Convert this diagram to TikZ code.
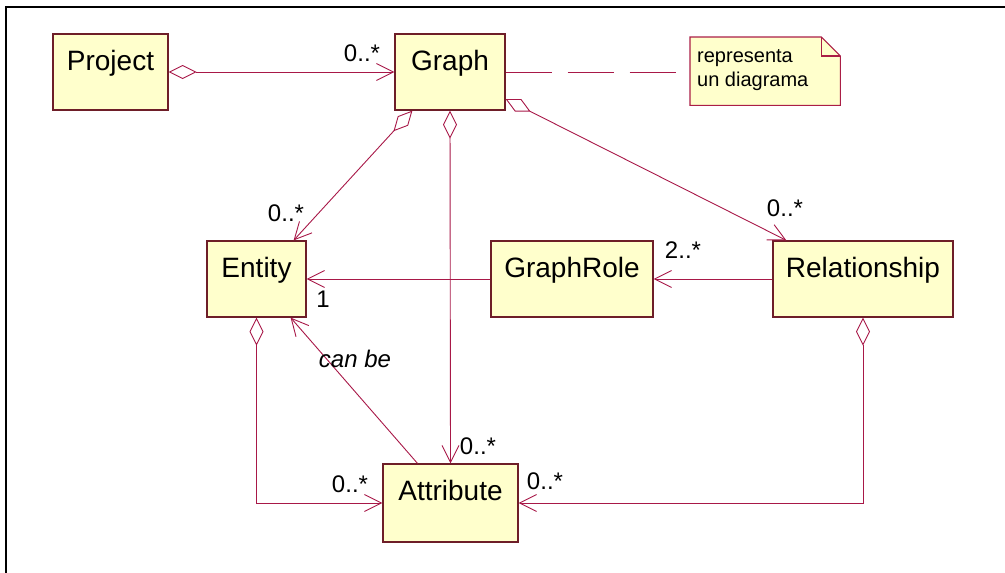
\documentclass[tikz,border=0pt]{standalone}
\usepackage{fontspec}
\setmainfont{Liberation Sans}
\usetikzlibrary{arrows.meta,calc}
\definecolor{lineclr}{RGB}{168,24,72}
\definecolor{clsborder}{RGB}{110,30,40}
\definecolor{noteborder}{RGB}{170,30,70}
\definecolor{clsfill}{RGB}{255,255,204}
\tikzset{
  cls/.style={draw=clsborder, fill=clsfill, line width=1.2pt, inner sep=0pt,
    minimum height=76pt, text height=36pt, text depth=40pt,
    font=\fontsize{28}{32}\selectfont},
  mult/.style={inner sep=0pt, font=\fontsize{24}{28}\selectfont},
  conn/.style={draw=lineclr, line width=0.9pt},
  openarrow/.style={conn, -{Straight Barb[length=17pt,width=17pt]}},
  aggarrow/.style={conn, {Diamond[open,length=28pt,width=14pt]}-{Straight Barb[length=17pt,width=17pt]}},
  notelink/.style={draw=lineclr, line width=0.9pt, dash pattern=on 46pt off 16pt},
}
\begin{document}
\begin{tikzpicture}[x=1pt,y=1pt]
\useasboundingbox (0,0) rectangle (1005,-573);
% frame
\draw[black, line width=2.2pt] (6,-573) -- (6,-7) -- (1005,-7);

% classes
\node[cls, minimum width=115pt] (project) at (110.5,-72) {Project};
\node[cls, minimum width=110pt] (graph) at (450,-72) {Graph};
\node[cls, minimum width=99pt] (entity) at (256.5,-279) {Entity};
\node[cls, minimum width=162pt] (graphrole) at (572,-279) {GraphRole};
\node[cls, minimum width=180pt] (relationship) at (863,-279) {Relationship};
\node[cls, minimum width=135pt, minimum height=78pt, text depth=42pt] (attribute) at (450.5,-503) {Attribute};

% note
\node[inner sep=0pt, minimum width=150pt, minimum height=68pt, anchor=north west] (note) at (690,-37) {};
\draw[draw=noteborder, fill=clsfill, line width=1.1pt]
  (note.north west) -- ([xshift=-19pt]note.north east) -- ([yshift=-19pt]note.north east)
  -- (note.south east) -- (note.south west) -- cycle;
\draw[draw=noteborder, line width=1.1pt]
  ([xshift=-19pt]note.north east) -- ([xshift=-19pt,yshift=-19pt]note.north east) -- ([yshift=-19pt]note.north east);
\node[inner sep=0pt, anchor=base west, align=left, font=\fontsize{20}{24}\selectfont] (notetext) at (697,-86) {representa\\un diagrama};

% connectors
\draw[aggarrow] (project.east) -- (graph.west);
\draw[notelink] (graph.east) -- (note.west |- graph.east);
\draw[aggarrow] ([xshift=18pt]graph.south west) -- ([xshift=-13pt]entity.north east);
\draw[aggarrow] (graph.south) -- (attribute.north);
\draw[aggarrow] ([yshift=-27pt]graph.east) -- ([xshift=14pt]relationship.north west);
\draw[openarrow] (relationship.west) -- (graphrole.east);
\draw[openarrow] (graphrole.west) -- (entity.east);
\draw[openarrow] ([xshift=-33pt]attribute.north) -- ([xshift=-16pt]entity.south east);
\draw[aggarrow] (entity.south) |- (attribute.west);
\draw[aggarrow] (relationship.south) |- (attribute.east);

% labels
\node[mult] (m1) at (362,-53) {0..*};
\node[mult] (m2) at (286,-213) {0..*};
\node[mult] (m3) at (785,-208) {0..*};
\node[mult] (m4) at (683,-250) {2..*};
\node[mult] (m5) at (323,-299) {1};
\node[mult, font=\fontsize{24}{28}\selectfont\itshape] (canbe) at (355,-359) {can be};
\node[mult] (m6) at (478,-446) {0..*};
\node[mult] (m7) at (350,-484) {0..*};
\node[mult] (m8) at (545,-481) {0..*};
\end{tikzpicture}
\end{document}
